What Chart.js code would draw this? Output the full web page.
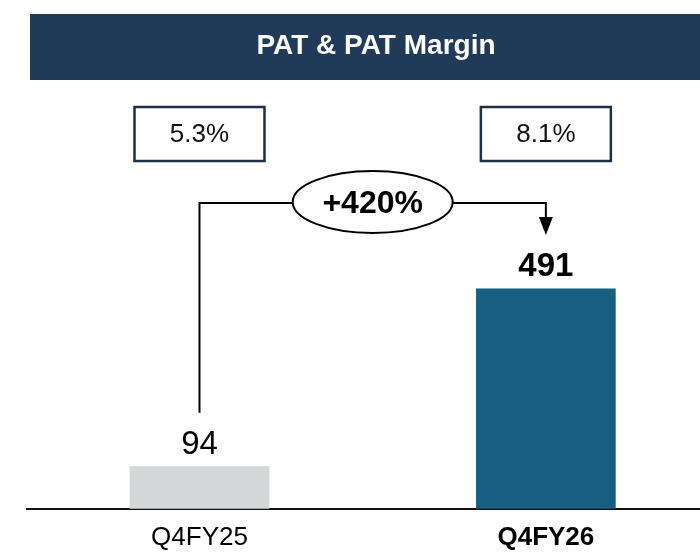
<!DOCTYPE html>
<html>
<head>
<meta charset="utf-8">
<script src="https://cdn.jsdelivr.net/npm/chart.js@4.4.1/dist/chart.umd.min.js"></script>
<style>
  html, body { margin: 0; padding: 0; background: #ffffff; overflow: hidden; }
  #wrap { width: 700px; height: 553px; position: relative; }
</style>
</head>
<body>
<div id="wrap"><canvas id="chart" width="700" height="553"></canvas></div>
<script>
// Chart content
const chartTitle = 'PAT & PAT Margin';
const periods = ['Q4FY25', 'Q4FY26'];
const pat = [94, 491];
const patMargin = ['5.3%', '8.1%'];
const growthLabel = '+420%';

// Styling
const barColors = ['#d5d6d8', '#175e80'];
const NAVY = '#203a59';
const BOX_BORDER = '#1b3044';
const FONT = "'Liberation Sans', Arial, sans-serif";

// Header band, margin boxes, value labels and the growth connector
const annotations = {
  id: 'annotations',
  afterDraw(chart) {
    const ctx = chart.ctx;
    const bars = chart.getDatasetMeta(0).data;

    // header band
    ctx.save();
    ctx.fillStyle = NAVY;
    ctx.fillRect(30, 14, 670, 66);
    ctx.fillStyle = '#ffffff';
    ctx.font = `bold 28px ${FONT}`;
    ctx.textAlign = 'center';
    ctx.textBaseline = 'middle';
    ctx.fillText(chartTitle, 376, 46);
    ctx.restore();

    // margin boxes above each bar
    bars.forEach((bar, i) => {
      const w = 130, h = 54, top = 107;
      ctx.save();
      ctx.fillStyle = '#ffffff';
      ctx.fillRect(bar.x - w / 2, top, w, h);
      ctx.strokeStyle = BOX_BORDER;
      ctx.lineWidth = 2.5;
      ctx.strokeRect(bar.x - w / 2, top, w, h);
      ctx.fillStyle = '#111111';
      ctx.font = `26px ${FONT}`;
      ctx.textAlign = 'center';
      ctx.textBaseline = 'middle';
      ctx.fillText(patMargin[i], bar.x, top + h / 2 + 1);
      ctx.restore();
    });

    // value labels on top of bars
    bars.forEach((bar, i) => {
      ctx.save();
      ctx.fillStyle = '#000000';
      ctx.font = `${i === 1 ? 'bold ' : ''}33px ${FONT}`;
      ctx.textAlign = 'center';
      ctx.textBaseline = 'alphabetic';
      ctx.fillText(String(pat[i]), bar.x, bar.y - 13);
      ctx.restore();
    });

    // growth connector from the first bar to the second
    const b0 = bars[0], b1 = bars[1];
    const lineY = 203;
    const cx = (b0.x + b1.x) / 2, cy = 202, rx = 80, ry = 31;
    const tipY = 235, headH = 18, headW = 7;
    ctx.save();
    ctx.strokeStyle = '#000000';
    ctx.lineWidth = 2;
    ctx.beginPath();
    ctx.moveTo(b0.x, b0.y - 54);
    ctx.lineTo(b0.x, lineY);
    ctx.lineTo(cx - rx, lineY);
    ctx.moveTo(cx + rx, lineY);
    ctx.lineTo(b1.x, lineY);
    ctx.lineTo(b1.x, tipY - headH);
    ctx.stroke();
    ctx.fillStyle = '#000000';
    ctx.beginPath();
    ctx.moveTo(b1.x - headW, tipY - headH);
    ctx.lineTo(b1.x + headW, tipY - headH);
    ctx.lineTo(b1.x, tipY);
    ctx.closePath();
    ctx.fill();
    ctx.beginPath();
    ctx.ellipse(cx, cy, rx, ry, 0, 0, Math.PI * 2);
    ctx.fillStyle = '#ffffff';
    ctx.fill();
    ctx.stroke();
    ctx.fillStyle = '#000000';
    ctx.font = `bold 32px ${FONT}`;
    ctx.textAlign = 'center';
    ctx.textBaseline = 'middle';
    ctx.fillText(growthLabel, cx, cy + 2);
    ctx.restore();
  }
};

new Chart(document.getElementById('chart'), {
  type: 'bar',
  data: {
    datasets: [{
      data: pat.map((v, i) => ({ x: i, y: v })),
      backgroundColor: barColors,
      borderWidth: 0,
      barThickness: 139
    }]
  },
  options: {
    responsive: false,
    animation: false,
    devicePixelRatio: 1,
    // the axis reserves tick padding on both sides of its labels; pull the bottom in to compensate
    layout: { padding: { left: 27, right: 0, top: 100, bottom: -13 } },
    plugins: {
      legend: { display: false },
      tooltip: { enabled: false },
      title: { display: false }
    },
    scales: {
      x: {
        type: 'linear',
        min: -0.498,
        max: 1.445,
        offset: false,
        afterBuildTicks: scale => { scale.ticks = periods.map((_, i) => ({ value: i })); },
        grid: { display: false, drawTicks: false },
        border: { display: true, color: '#111111', width: 2 },
        ticks: {
          autoSkip: false,
          maxRotation: 0,
          padding: 13,
          color: '#000000',
          callback: v => periods[v],
          font: c => ({ family: FONT, size: 26, weight: c.index === 1 ? 'bold' : 'normal' })
        }
      },
      y: { display: false, min: 0, max: 912 }
    }
  },
  plugins: [annotations]
});
</script>
</body>
</html>
